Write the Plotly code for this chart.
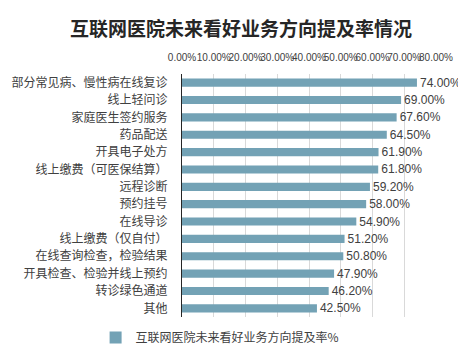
import plotly.graph_objects as go

categories = ["部分常见病、慢性病在线复诊", "线上轻问诊", "家庭医生签约服务", "药品配送", "开具电子处方",
              "线上缴费（可医保结算）", "远程诊断", "预约挂号", "在线导诊", "线上缴费（仅自付）",
              "在线查询检查，检验结果", "开具检查、检验并线上预约", "转诊绿色通道", "其他"]
values = [0.74, 0.69, 0.676, 0.645, 0.619, 0.618, 0.592, 0.58, 0.549, 0.512, 0.508, 0.479, 0.462, 0.425]
tick_vals = [0, 0.1, 0.2, 0.3, 0.4, 0.5, 0.6, 0.7, 0.8]
tick_text = ["0.00%", "10.00%", "20.00%", "30.00%", "40.00%", "50.00%", "60.00%", "70.00%", "80.00%"]
series_name = "互联网医院未来看好业务方向提及率%"

font_family = "Noto Sans CJK SC, Liberation Sans, sans-serif"
fig = go.Figure()
fig.add_trace(go.Bar(
    y=categories, x=values, orientation="h", name=series_name,
    marker=dict(color="#73A2B5", line=dict(width=0)),
    text=[f"{v*100:.2f}%" for v in values], textposition="outside",
    constraintext="none",
    textfont=dict(size=12, color="#404040", family="Liberation Sans, Arial"),
    cliponaxis=False, showlegend=True,
))
fig.update_layout(
    width=466, height=357,
    margin=dict(l=174, r=38, t=66, b=48, autoexpand=False),
    paper_bgcolor="white", plot_bgcolor="white",
    bargap=0.53,
    title=dict(text="<b>互联网医院未来看好业务方向提及率情况</b>", x=0.5, xanchor="center", y=0.94, yanchor="middle",
               font=dict(size=19, color="#262626", family=font_family)),
    font=dict(family=font_family, color="#404040"),
    legend=dict(orientation="h", x=0.15, xanchor="center", y=-0.025, yanchor="top",
                font=dict(size=12, color="#404040")),
    xaxis=dict(range=[0, 0.8], side="top", tickvals=tick_vals, ticktext=tick_text, tickangle=0,
               showgrid=True, gridcolor="#D9D9D9", gridwidth=1, zeroline=False,
               tickfont=dict(size=10, color="#404040", family="Liberation Sans, Arial"),
               ticks="", showline=False, fixedrange=True, ticklabelstandoff=10, automargin=False),
    yaxis=dict(autorange="reversed", showline=True, linecolor="#262626", linewidth=1,
               tickfont=dict(size=12, color="#404040"), ticks="", ticklabelstandoff=11, automargin=False),
)
fig.add_shape(type="line", xref="paper", yref="paper",
              x0=(464 - 174) / (466 - 174 - 38), x1=(464 - 174) / (466 - 174 - 38),
              y0=-48 / 243, y1=1 + 66 / 243, line=dict(color="#BFBFBF", width=1))
fig.write_html("out.html")
